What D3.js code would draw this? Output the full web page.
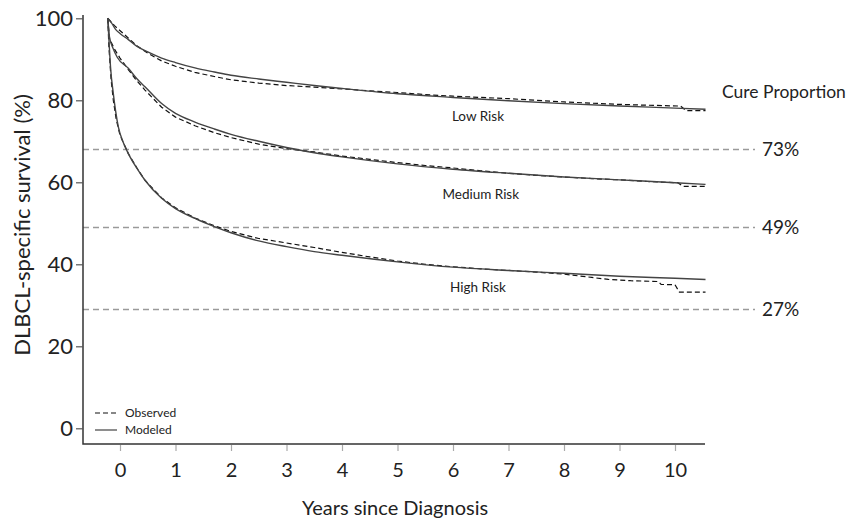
<!DOCTYPE html>
<html>
<head>
<meta charset="utf-8">
<script src="https://cdn.jsdelivr.net/npm/d3@7"></script>
<style>
  body { margin: 0; background: #fff; }
  svg { display: block; font-family: Lato, "Open Sans", sans-serif; }
</style>
</head>
<body>
<div id="chart"></div>
<script>
// survival curves, [years, percent]
const lowModeled = [[-0.22, 100], [-0.15, 98.8], [-0.08, 97.3], [0, 96.3], [0.15, 94.8], [0.3, 93.2],
  [0.5, 91.8], [0.75, 90.3], [1, 89.2], [1.35, 87.9], [1.7, 86.9], [2, 86.1], [2.5, 85.2], [3, 84.4],
  [3.5, 83.6], [4, 82.9], [5, 81.6], [6, 80.7], [7, 79.9], [8, 79.2], [9, 78.6], [10, 78.1], [10.55, 77.8]]
const lowObserved = [[-0.22, 100], [-0.1, 98.2], [0.1, 95.8], [0.3, 93.3], [0.5, 91.5], [0.75, 89.6],
  [1, 88.3], [1.35, 86.8], [1.7, 85.8], [2, 85.0], [2.5, 84.2], [3, 83.6], [3.5, 83.2], [4, 82.8],
  [4.5, 82.3], [5, 81.9], [5.5, 81.4], [6, 81.0], [6.5, 80.7], [7, 80.4], [7.5, 80.0], [8, 79.6],
  [8.5, 79.3], [9, 79.0], [9.5, 78.8], [10.1, 78.6], [10.2, 77.5], [10.55, 77.5]]

const mediumModeled = [[-0.22, 100], [-0.19, 95.5], [-0.12, 92.5], [-0.05, 90.5], [0.15, 87.8],
  [0.3, 85.3], [0.45, 83.3], [0.75, 79.2], [1, 76.8], [1.35, 74.7], [1.7, 73.0], [2, 71.7], [2.5, 70.0],
  [3, 68.5], [3.5, 67.2], [4, 66.2], [5, 64.5], [6, 63.2], [7, 62.2], [8, 61.3], [9, 60.6], [10, 59.9],
  [10.55, 59.5]]
const mediumObserved = [[-0.22, 100], [-0.19, 95], [-0.1, 92.5], [0, 90.3], [0.15, 87.5], [0.3, 84.8],
  [0.45, 82.5], [0.75, 78.3], [1, 75.9], [1.35, 73.8], [1.7, 72.1], [2, 70.9], [2.5, 69.3], [3, 68.2],
  [3.5, 67.4], [4, 66.4], [4.5, 65.6], [5, 64.8], [5.5, 64.1], [6, 63.5], [6.5, 62.8], [7, 62.2],
  [7.5, 61.7], [8, 61.3], [8.5, 60.9], [9, 60.6], [9.5, 60.2], [10.05, 59.9], [10.15, 59.0], [10.55, 59.0]]

const highModeled = [[-0.22, 100], [-0.2, 95], [-0.17, 88], [-0.12, 81.6], [-0.08, 77.5], [-0.03, 73.5],
  [0.05, 70], [0.15, 67.0], [0.3, 63.5], [0.45, 60.5], [0.75, 56.1], [1, 53.6], [1.35, 51.2], [1.7, 49.2],
  [2, 47.7], [2.5, 45.7], [3, 44.3], [3.5, 43.1], [4, 42.2], [5, 40.6], [6, 39.3], [7, 38.5], [8, 37.8],
  [9, 37.1], [10, 36.6], [10.55, 36.3]]
const highObserved = [[-0.22, 100], [-0.2, 93], [-0.16, 85], [-0.12, 80], [-0.07, 75.5], [0, 71.5],
  [0.15, 67.0], [0.3, 63.6], [0.45, 60.5], [0.75, 56.2], [1, 53.8], [1.35, 51.3], [1.7, 49.4], [2, 48.0],
  [2.5, 46.3], [3, 45.2], [3.5, 44.1], [4, 42.9], [4.5, 41.8], [5, 40.8], [5.5, 40.0], [6, 39.4],
  [6.5, 38.9], [7, 38.5], [7.5, 38.1], [8, 37.6], [8.5, 36.8], [8.8, 36.3], [9.2, 36.0], [9.7, 35.8],
  [9.75, 35.1], [10, 35.0], [10.08, 33.2], [10.55, 33.2]]

const riskNames = ['Low Risk', 'Medium Risk', 'High Risk']
const riskLabelAt = [[6.45, 76.2], [6.5, 57.2], [6.45, 34.4]]

const cureLevels = [68, 49, 29]
const cureLabels = ['73%', '49%', '27%']

const yTicks = [0, 20, 40, 60, 80, 100]
const xTicks = [0, 1, 2, 3, 4, 5, 6, 7, 8, 9, 10]

const width = 850
const height = 521

const x = d3.scaleLinear().domain([0, 10]).range([120, 675])
const y = d3.scaleLinear().domain([0, 100]).range([428.3, 18.3])
const axisX = 83
const axisY = 444

const svg = d3.select('#chart')
  .append('svg')
  .attr('width', width)
  .attr('height', height)

// cure proportion reference lines
svg.append('g')
  .selectAll('line')
  .data(cureLevels)
  .join('line')
  .attr('x1', axisX)
  .attr('x2', 755)
  .attr('y1', d => y(d))
  .attr('y2', d => y(d))
  .attr('stroke', '#9a9a9a')
  .attr('stroke-width', 1.5)
  .attr('stroke-dasharray', '6,4')

svg.append('g')
  .selectAll('text')
  .data(cureLevels)
  .join('text')
  .attr('x', 762)
  .attr('y', d => y(d))
  .attr('dy', '0.36em')
  .attr('font-size', 19)
  .attr('fill', '#222')
  .text((d, i) => cureLabels[i])

svg.append('text')
  .attr('x', 722)
  .attr('y', 92)
  .attr('dy', '0.36em')
  .attr('font-size', 17.5)
  .attr('fill', '#222')
  .text('Cure Proportion')

// axes: L-shaped frame, ticks drawn by d3
svg.append('path')
  .attr('d', `M${axisX},15V${axisY}H705`)
  .attr('fill', 'none')
  .attr('stroke', '#333')
  .attr('stroke-width', 1.5)

const yAxis = svg.append('g')
  .attr('transform', `translate(${axisX},0)`)
  .call(d3.axisLeft(y).tickValues(yTicks).tickSize(7).tickPadding(3))
yAxis.select('.domain').remove()
yAxis.selectAll('line').attr('stroke', '#555').attr('stroke-width', 1.2)
yAxis.selectAll('text').attr('font-size', 22).attr('font-family', 'Lato').attr('fill', '#222')

const xAxis = svg.append('g')
  .attr('transform', `translate(0,${axisY + 1})`)
  .call(d3.axisBottom(x).tickValues(xTicks).tickSize(6).tickPadding(12))
xAxis.select('.domain').remove()
xAxis.selectAll('line').attr('stroke', '#aaa').attr('stroke-width', 1.2)
xAxis.selectAll('text').attr('font-size', 20).attr('font-family', 'Lato').attr('fill', '#222')

svg.append('text')
  .attr('x', 395)
  .attr('y', 515)
  .attr('text-anchor', 'middle')
  .attr('font-size', 20)
  .attr('fill', '#222')
  .text('Years since Diagnosis')

svg.append('text')
  .attr('transform', 'translate(30,225) rotate(-90)')
  .attr('text-anchor', 'middle')
  .attr('font-size', 22)
  .attr('fill', '#222')
  .text('DLBCL-specific survival (%)')

// curves
const modeledLine = d3.line()
  .x(d => x(d[0]))
  .y(d => y(d[1]))
  .curve(d3.curveMonotoneX)
const observedLine = d3.line()
  .x(d => x(d[0]))
  .y(d => y(d[1]))

const modeled = [lowModeled, mediumModeled, highModeled]
const observed = [lowObserved, mediumObserved, highObserved]

svg.append('g')
  .selectAll('path')
  .data(observed)
  .join('path')
  .attr('d', observedLine)
  .attr('fill', 'none')
  .attr('stroke', '#111')
  .attr('stroke-width', 1.2)
  .attr('stroke-dasharray', '5,3')

svg.append('g')
  .selectAll('path')
  .data(modeled)
  .join('path')
  .attr('d', modeledLine)
  .attr('fill', 'none')
  .attr('stroke', '#444')
  .attr('stroke-width', 1.4)

svg.append('g')
  .selectAll('text')
  .data(riskNames)
  .join('text')
  .attr('x', (d, i) => x(riskLabelAt[i][0]))
  .attr('y', (d, i) => y(riskLabelAt[i][1]))
  .attr('dy', '0.36em')
  .attr('text-anchor', 'middle')
  .attr('font-size', 13.5)
  .attr('fill', '#222')
  .text(d => d)

// legend
const legendItems = [{name: 'Observed', dash: '5,3', color: '#111'}, {name: 'Modeled', dash: null, color: '#444'}]
const legend = svg.append('g')
  .selectAll('g')
  .data(legendItems)
  .join('g')
  .attr('transform', (d, i) => `translate(95,${413 + i * 17})`)
legend.append('line')
  .attr('x1', 0)
  .attr('x2', 22)
  .attr('stroke', d => d.color)
  .attr('stroke-width', 1.2)
  .attr('stroke-dasharray', d => d.dash)
legend.append('text')
  .attr('x', 30)
  .attr('dy', '0.36em')
  .attr('font-size', 12)
  .attr('fill', '#222')
  .text(d => d.name)
</script>
</body>
</html>
